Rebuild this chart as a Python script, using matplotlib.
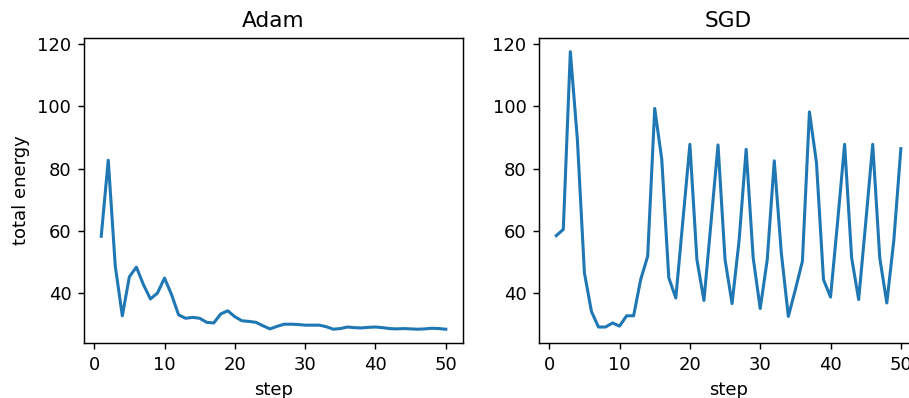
import matplotlib
matplotlib.use("Agg")
import matplotlib.pyplot as plt

# steps 1..50
steps = list(range(1, 51))

adam_energy = [
    58.3, 82.7, 48.7, 32.8, 45.3, 48.4, 42.8, 38.2, 40.1, 44.9,
    39.6, 33.1, 32.0, 32.3, 32.0, 30.7, 30.5, 33.4, 34.4, 32.5,
    31.2, 31.0, 30.7, 29.6, 28.6, 29.4, 30.1, 30.1, 30.0, 29.8,
    29.8, 29.8, 29.3, 28.5, 28.7, 29.2, 29.0, 28.9, 29.1, 29.2,
    29.0, 28.7, 28.6, 28.7, 28.6, 28.5, 28.6, 28.8, 28.7, 28.5,
]

sgd_energy = [
    58.5, 60.5, 117.5, 89.4, 46.6, 34.2, 29.2, 29.2, 30.5, 29.5,
    32.8, 32.8, 44.4, 51.9, 99.3, 83.0, 45.0, 38.5, 63.2, 87.8,
    50.8, 37.7, 62.6, 87.6, 50.8, 36.7, 57.0, 86.2, 51.4, 35.1,
    50.8, 82.5, 53.0, 32.6, 41.2, 50.3, 98.2, 81.9, 44.4, 38.8,
    62.8, 87.8, 51.4, 38.0, 62.6, 87.8, 51.4, 36.9, 57.0, 86.4,
]

titles = ["Adam", "SGD"]

# reference looks like default styles rendered at ~1.3x scale
s = 1.3
plt.rcParams.update({
    "font.size": 10 * s,
    "axes.titlesize": 12 * s,
    "axes.labelsize": 10 * s,
    "xtick.labelsize": 10 * s,
    "ytick.labelsize": 10 * s,
    "axes.linewidth": 0.8 * s,
    "xtick.major.width": 0.8 * s,
    "ytick.major.width": 0.8 * s,
    "xtick.major.size": 3.5 * s,
    "ytick.major.size": 3.5 * s,
    "xtick.major.pad": 3.5 * s,
    "ytick.major.pad": 3.5 * s,
    "axes.labelpad": 4.0 * s,
    "axes.titlepad": 6.0 * s,
    "lines.linewidth": 2.2,
})

fig = plt.figure(figsize=(9.09, 3.98), dpi=100)
# right panel runs past the figure edge, like the reference crop
ax1 = fig.add_axes([0.0924, 0.138, 0.417, 0.767])
ax2 = fig.add_axes([0.593, 0.138, 0.417, 0.767], sharey=ax1)

for ax, y, title in zip([ax1, ax2], [adam_energy, sgd_energy], titles):
    ax.plot(steps, y, color="#1f77b4")
    ax.set_title(title)
    ax.set_xlabel("step")
    ax.set_xticks([0, 10, 20, 30, 40, 50])

ax1.set_ylabel("total energy")
ax1.set_yticks([40, 60, 80, 100, 120])
ax2.yaxis.set_tick_params(labelleft=True)

fig.savefig("out.png", dpi=100)
